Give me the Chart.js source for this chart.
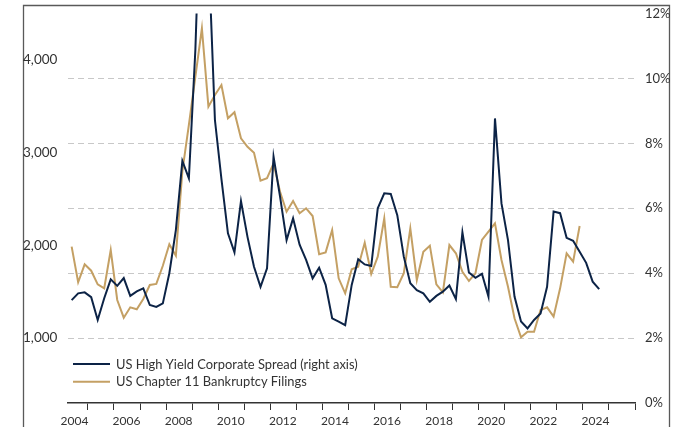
<!DOCTYPE html>
<html>
<head>
<meta charset="utf-8">
<script src="https://cdn.jsdelivr.net/npm/chart.js@4/dist/chart.umd.min.js"></script>
<style>
  html, body { margin: 0; padding: 0; background: #ffffff; }
  #wrap { width: 675px; height: 427px; }
</style>
</head>
<body>
<div id="wrap"><canvas id="chart" width="675" height="427"></canvas></div>
<script>
// Quarterly series, first observation 2004 Q1
const firstYear = 2004;

// US High Yield corporate spread, % (right axis)
const hySpread = [
  3.17, 3.38, 3.41, 3.26, 2.56, 3.23, 3.81, 3.61, 3.85, 3.30, 3.44, 3.53,
  3.02, 2.96, 3.07, 4.00, 5.33, 7.46, 6.92, 10.9, 17.0, 14.0, 8.72, 6.90,
  5.23, 4.64, 6.22, 5.12, 4.20, 3.58, 4.15, 7.59, 6.36, 5.02, 5.69, 4.88,
  4.41, 3.84, 4.17, 3.64, 2.61, 2.51, 2.40, 3.64, 4.43, 4.27, 4.22, 6.00,
  6.46, 6.44, 5.79, 4.51, 3.69, 3.48, 3.38, 3.12, 3.30, 3.43, 3.62, 3.20,
  5.26, 4.02, 3.86, 3.98, 3.28, 8.77, 6.15, 5.02, 3.28, 2.51, 2.30, 2.56,
  2.76, 3.58, 5.90, 5.85, 5.09, 5.00, 4.66, 4.32, 3.74, 3.51
];

// US Chapter 11 bankruptcy filings per quarter (left axis)
const ch11Filings = [
  1986, 1602, 1796, 1727, 1580, 1537, 1950, 1411, 1220, 1332, 1311, 1422,
  1573, 1584, 1780, 2012, 1889, 2800, 3300, 3820, 4341, 3496, 3622, 3730,
  3371, 3436, 3155, 3064, 3000, 2698, 2724, 2885, 2579, 2363, 2479, 2346,
  2400, 2317, 1904, 1925, 2166, 1645, 1483, 1742, 1770, 2029, 1691, 1878,
  2292, 1554, 1548, 1699, 2184, 1627, 1932, 1997, 1580, 1494, 2004, 1915,
  1716, 1616, 1699, 2058, 2148, 2238, 1842, 1554, 1214, 1009, 1069, 1069,
  1303, 1332, 1231, 1537, 1915, 1824, 2209
];

// Axis ticks
const yearTicks = [2004, 2005, 2006, 2007, 2008, 2009, 2010, 2011, 2012, 2013, 2014,
                   2015, 2016, 2017, 2018, 2019, 2020, 2021, 2022, 2023, 2024, 2025];
const filingTicks = [1000, 2000, 3000, 4000];
const spreadTicks = [0, 2, 4, 6, 8, 10, 12];

const seriesNames = ['US High Yield Corporate Spread (right axis)', 'US Chapter 11 Bankruptcy Filings'];
const navy = '#0c2346';
const gold = '#c4a064';
const textColor = '#333333';
const fontFamily = 'Lato, "Liberation Sans", sans-serif';

// quarter position on the time axis
const toPoints = (arr) => arr.map((v, i) => ({ x: firstYear + i / 4, y: v }));

// keep the plot area fixed: no extra room for edge labels
const noEdgePadding = (scale) => {
  scale.paddingTop = 0;
  scale.paddingBottom = 0;
  scale.paddingLeft = 0;
  scale.paddingRight = 0;
};

// frame around the plot
const framePlugin = {
  id: 'frame',
  beforeDraw(chart) {
    const ctx = chart.ctx;
    ctx.save();
    ctx.fillStyle = '#ffffff';
    ctx.fillRect(0, 0, chart.width, chart.height);
    ctx.strokeStyle = '#595959';
    ctx.lineWidth = 1.3;
    ctx.beginPath();
    ctx.moveTo(23.5, chart.height);
    ctx.lineTo(23.5, 5.5);
    ctx.lineTo(669.5, 5.5);
    ctx.lineTo(669.5, chart.height);
    ctx.stroke();
    ctx.restore();
  }
};

// legend drawn inside the plot, lower left
const insideLegend = {
  id: 'insideLegend',
  afterDatasetsDraw(chart) {
    const ctx = chart.ctx;
    const x0 = chart.chartArea.left + 5;
    const y0 = 364;
    ctx.save();
    ctx.font = '12.9px ' + fontFamily;
    ctx.textBaseline = 'middle';
    chart.data.datasets.forEach((ds, i) => {
      const y = y0 + i * 17.7;
      ctx.strokeStyle = ds.borderColor;
      ctx.lineWidth = 2;
      ctx.beginPath();
      ctx.moveTo(x0, y);
      ctx.lineTo(x0 + 37, y);
      ctx.stroke();
      ctx.fillStyle = textColor;
      ctx.fillText(ds.label, x0 + 43, y + 0.5);
    });
    ctx.restore();
  }
};

new Chart(document.getElementById('chart'), {
  type: 'line',
  data: {
    datasets: [
      {
        label: seriesNames[0],
        data: toPoints(hySpread),
        yAxisID: 'yRight',
        borderColor: navy,
        borderWidth: 2,
        pointRadius: 0,
        tension: 0
      },
      {
        label: seriesNames[1],
        data: toPoints(ch11Filings),
        yAxisID: 'yLeft',
        borderColor: gold,
        borderWidth: 2,
        pointRadius: 0,
        tension: 0
      }
    ]
  },
  options: {
    responsive: false,
    animation: false,
    layout: { padding: { left: 23, right: 5, top: 13.6, bottom: 0 } },
    plugins: {
      legend: { display: false },
      tooltip: { enabled: false }
    },
    scales: {
      x: {
        type: 'linear',
        position: 'bottom',
        min: 2003.86,
        max: 2025.625,
        afterBuildTicks(scale) {
          scale.ticks = yearTicks.map(y => ({ value: y + 0.625 }));
        },
        afterFit(scale) { scale.height = 24; noEdgePadding(scale); },
        grid: {
          display: true,
          drawOnChartArea: false,
          drawTicks: true,
          tickLength: 7,
          color: '#333333',
          lineWidth: 1
        },
        border: { display: true, color: '#333333', width: 1.5 },
        ticks: {
          autoSkip: false,
          maxRotation: 0,
          padding: 4,
          labelOffset: -13.5,
          color: textColor,
          font: { family: fontFamily, size: 12 },
          callback(value) {
            const yr = Math.round(value - 0.625);
            return yr % 2 === 0 ? String(yr) : '';
          }
        }
      },
      yLeft: {
        type: 'linear',
        position: 'left',
        min: 300,
        max: 4500,
        afterBuildTicks(scale) {
          scale.ticks = filingTicks.map(v => ({ value: v }));
        },
        afterFit(scale) { scale.width = 45; noEdgePadding(scale); },
        grid: { display: false, drawTicks: false },
        border: { display: false },
        ticks: {
          crossAlign: 'far',
          padding: 0,
          color: textColor,
          font: { family: fontFamily, size: 13.5 },
          callback: (v) => v.toLocaleString('en-US')
        }
      },
      yRight: {
        type: 'linear',
        position: 'right',
        min: 0,
        max: 12,
        afterBuildTicks(scale) {
          scale.ticks = spreadTicks.map(v => ({ value: v }));
        },
        afterFit(scale) { scale.width = 35; noEdgePadding(scale); },
        grid: {
          display: true,
          drawOnChartArea: true,
          drawTicks: false,
          lineWidth: 1,
          borderDash: [6, 4],
          color: (c) => (c.tick && (c.tick.value === 0 || c.tick.value === 12)) ? 'rgba(0,0,0,0)' : '#c8c8c8'
        },
        border: { display: false, dash: [6, 4] },
        ticks: {
          padding: 10,
          color: textColor,
          font: { family: fontFamily, size: 13 },
          callback: (v) => v + '%'
        }
      }
    }
  },
  plugins: [framePlugin, insideLegend]
});
</script>
</body>
</html>
